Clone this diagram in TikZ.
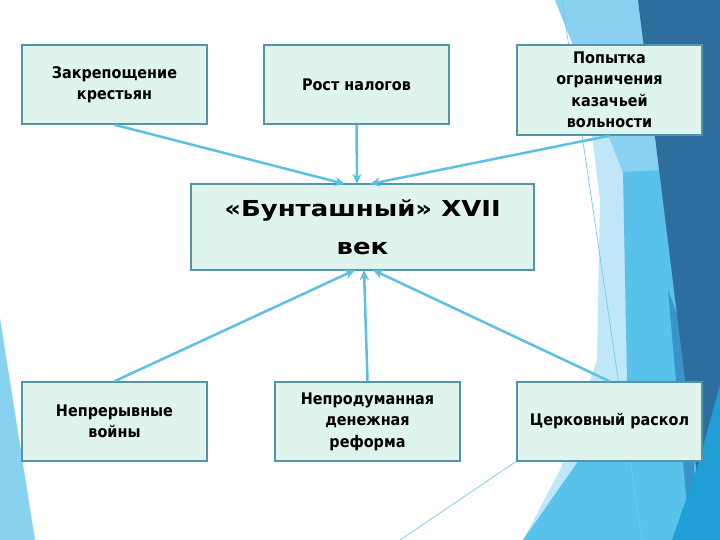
\documentclass[tikz,border=0pt]{standalone}
\usepackage{fontspec}
\setmainfont{DejaVu Sans}
\newfontfamily\boxfont[FakeStretch=0.9]{DejaVu Sans}
\newfontfamily\titlefont[FakeStretch=1.18]{DejaVu Sans}
\usetikzlibrary{arrows.meta}
\definecolor{boxfill}{RGB}{222,244,237}
\definecolor{boxline}{RGB}{82,148,170}
\definecolor{arrowc}{RGB}{92,192,228}
\definecolor{bgvl}{RGB}{192,231,247}
\definecolor{bglight}{RGB}{136,209,240}
\definecolor{bgmed}{RGB}{88,194,235}
\definecolor{bgdark}{RGB}{45,110,159}
\definecolor{bgbright}{RGB}{32,159,215}
\definecolor{bgband}{RGB}{58,146,203}
\definecolor{thinc}{RGB}{120,200,235}
\tikzset{
  causebox/.style={draw=boxline, line width=1.5pt, fill=boxfill, minimum width=185pt, minimum height=79pt, inner sep=0pt, align=center, font=\boxfont\bfseries\fontsize{16}{21.5}\selectfont},
  mainbox/.style={draw=boxline, line width=1.5pt, fill=boxfill, minimum width=343pt, minimum height=86pt, inner sep=0pt, align=center, font=\titlefont\bfseries\fontsize{22}{38}\selectfont},
  link/.style={draw=arrowc, line width=2.5pt, -{Stealth[length=10pt,width=9pt,inset=3pt]}},
  thinline/.style={draw=thinc, line width=0.7pt}
}
\begin{document}
\begin{tikzpicture}[x=1pt,y=-1pt]
\useasboundingbox (0,0) rectangle (720,540);
\fill[white] (0,0) rectangle (720,540);
% background decoration
\fill[bgvl] (575,0) -- (720,0) -- (720,540) -- (523,540) -- (560,470) -- (597,360) -- (600,200) -- cycle;
\fill[bglight] (555,0) -- (640,0) -- (662,170) -- (625,178) -- cycle;
\fill[bgmed] (623,172) -- (663,170) -- (687,360) -- (705,540) -- (523,540) -- (600,430) -- (627,380) -- cycle;
\fill[bgband] (668,290) -- (683,330) -- (700,540) -- (690,540) -- cycle;
\fill[bgdark] (638,0) -- (720,0) -- (720,540) -- (705,540) -- cycle;
\fill[bgbright] (720,385) -- (720,540) -- (672,540) -- (698,465) -- cycle;
\fill[bglight] (0,318) -- (35,540) -- (0,540) -- cycle;
\draw[thinline] (562,0) -- (642,540);
\draw[thinline] (400,540) -- (545,442);
% nodes
\node[causebox] (a) at (114.5,84.5) {Закрепощение\\крестьян};
\node[causebox] (b) at (356.5,84.5) {Рост налогов};
\node[causebox, minimum height=90pt] (c) at (609.5,90) {Попытка\\ограничения\\казачьей\\вольности};
\node[mainbox] (m) at (362.5,227) {«Бунташный» XVII\\век};
\node[causebox] (d) at (114.5,421.5) {Непрерывные\\войны};
\node[causebox] (e) at (367.5,421.5) {Непродуманная\\денежная\\реформа};
\node[causebox] (f) at (609.5,421.5) {Церковный раскол};
% arrow targets
\coordinate (ta) at (345,184);
\coordinate (tb) at (357,184);
\coordinate (tc) at (370,184);
\coordinate (td) at (355,270);
\coordinate (te) at (364,270);
\coordinate (tf) at (373,270);
\draw[link] (a.south) -- (ta);
\draw[link] (b.south) -- (tb);
\draw[link] (c.south) -- (tc);
\draw[link] (d.north) -- (td);
\draw[link] (e.north) -- (te);
\draw[link] (f.north) -- (tf);
\end{tikzpicture}
\end{document}
